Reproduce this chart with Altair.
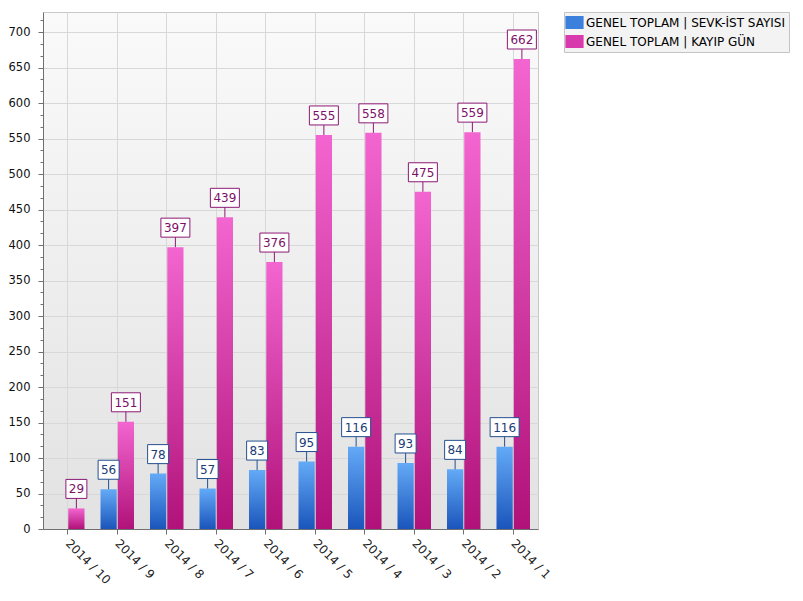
import altair as alt
import pandas as pd

categories = ["2014 / 10", "2014 / 9", "2014 / 8", "2014 / 7", "2014 / 6",
              "2014 / 5", "2014 / 4", "2014 / 3", "2014 / 2", "2014 / 1"]
sevk_values = [None, 56, 78, 57, 83, 95, 116, 93, 84, 116]
kayip_values = [29, 151, 397, 439, 376, 555, 558, 475, 559, 662]
series_names = ["GENEL TOPLAM | SEVK-İST SAYISI", "GENEL TOPLAM | KAYIP GÜN"]

rows = []
for c, s, k in zip(categories, sevk_values, kayip_values):
    if s is not None:
        rows.append({"cat": c, "series": series_names[0], "value": s})
    rows.append({"cat": c, "series": series_names[1], "value": k})
df = pd.DataFrame(rows)

FONT = "DejaVu Sans"
grad_blue = {"gradient": "linear", "x1": 0, "y1": 0, "x2": 0, "y2": 1,
             "stops": [{"offset": 0, "color": "#64aaf7"}, {"offset": 1, "color": "#1a55bb"}]}
grad_pink = {"gradient": "linear", "x1": 0, "y1": 0, "x2": 0, "y2": 1,
             "stops": [{"offset": 0, "color": "#f365d0"}, {"offset": 1, "color": "#b01279"}]}

major_test = "abs(datum.value/50 - round(datum.value/50)) < 0.001"
tick_vals = [round(i * 50 / 3, 4) for i in range(0, 44)]
is_blue = f"datum.series === '{series_names[0]}'"

x = alt.X("cat:N", sort=categories, title=None,
          scale=alt.Scale(paddingInner=0.323, paddingOuter=0.1615),
          axis=alt.Axis(labelAngle=45, labelAlign="left", labelBaseline="middle",
                        labelPadding=7, tickSize=5, grid=True, gridColor="#d8d8d8",
                        bandPosition=0.5, domainColor="#707070", tickColor="#707070",
                        labelColor="#202020", labelFont=FONT, labelFontSize=12))
xo = alt.XOffset("series:N", sort=series_names,
                 scale=alt.Scale(domain=series_names, paddingInner=0.06, paddingOuter=0))
y = alt.Y("value:Q", title=None,
          scale=alt.Scale(domain=[0, 728.2], nice=False),
          axis=alt.Axis(values=tick_vals, labelOverlap=False,
                        labelExpr=f"{major_test} ? format(datum.value, 'd') : ''",
                        tickSize={"condition": {"test": major_test, "value": 5}, "value": 3},
                        gridOpacity={"condition": {"test": major_test, "value": 1}, "value": 0},
                        gridColor="#d8d8d8", labelPadding=8,
                        domainColor="#707070", tickColor="#707070",
                        labelColor="#101010", labelFont=FONT, labelFontSize=11.5))

base = alt.Chart(df).encode(x=x, xOffset=xo, y=y)

bars_blue = base.transform_filter(alt.datum.series == series_names[0]).mark_bar(color=grad_blue)
bars_pink = base.transform_filter(alt.datum.series == series_names[1]).mark_bar(color=grad_pink)

path2 = "M0,0V-10M-10.5,-10H10.5V-29H-10.5Z"
path3 = "M0,0V-10M-14.5,-10H14.5V-29H-14.5Z"
boxes = base.transform_calculate(
    box=f"length(toString(datum.value)) > 2 ? '{path3}' : '{path2}'"
).mark_point(size=4, filled=False, fill="white", fillOpacity=1, opacity=1, strokeWidth=1).encode(
    shape=alt.Shape("box:N", scale=None),
    stroke=alt.condition(is_blue, alt.value("#24508e"), alt.value("#8c1a74")),
)

labels = base.mark_text(dy=-19, baseline="middle", align="center", font=FONT, fontSize=12).encode(
    text=alt.Text("value:Q"),
    color=alt.condition(is_blue, alt.value("#1a3d78"), alt.value("#7d1068")),
)

legend_layer = base.mark_point(shape="M-1.4,-1H1.4V1H-1.4Z", filled=True, opacity=0).encode(
    fill=alt.Fill("series:N", sort=series_names,
                  scale=alt.Scale(domain=series_names, range=["#3b80dd", "#d83aae"]),
                  legend=alt.Legend(title=None, orient="none", legendX=521, legendY=0,
                                    fillColor="#f3f3f3", strokeColor="#c4c4c4", padding=4,
                                    symbolSize=169, symbolType="M-1.4,-1H1.4V1H-1.4Z",
                                    symbolStrokeWidth=0, rowPadding=6, labelOffset=5,
                                    labelLimit=400, labelFont=FONT, labelFontSize=12,
                                    labelColor="#000000")),
)

chart = alt.layer(bars_blue, bars_pink, boxes, labels, legend_layer).properties(
    width=495, height=517, autosize="none",
    padding={"left": 35, "top": 4, "right": 252, "bottom": 62},
).configure_view(
    fill={"expr": "{gradient: 'linear', x1: 0, y1: 0, x2: 0, y2: 1, stops: [{offset: 0, color: '#fafafa'}, {offset: 1, color: '#e2e2e2'}]}"},
    stroke="#c8c8c8",
)

chart.save("out.html", embed_options={"renderer": "svg", "actions": False})
